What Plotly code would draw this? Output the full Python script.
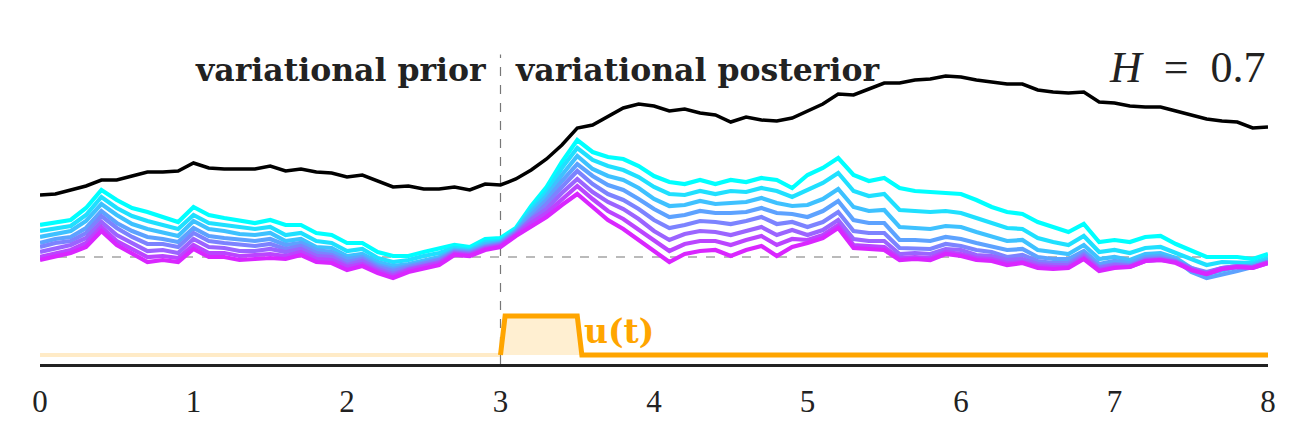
import plotly.graph_objects as go

# ---------------- data ----------------
t = [round(0.1 * i, 1) for i in range(81)]

# observed trajectory (black)
observed = [62, 63, 67, 71, 77, 77, 81, 85, 85, 86,
            94, 89, 88, 88, 88, 91, 86, 88, 85, 84,
            80, 82, 76, 70, 71, 68, 68, 70, 67, 73,
            72, 78, 87, 98, 112, 129, 132, 141, 149, 153,
            151, 146, 148, 144, 142, 135, 140, 137, 136, 139,
            146, 153, 163, 162, 168, 174, 174, 177, 178, 181,
            180, 177, 175, 173, 173, 167, 165, 164, 165, 155,
            154, 151, 150, 150, 146, 142, 138, 136, 135, 129,
            130]

# sampled trajectories (cyan -> magenta)
path_0 = [32, 35, 37, 49, 67, 57, 49, 45, 40, 35,
          50, 42, 39, 37, 34, 37, 32, 32, 24, 22,
          14, 14, 5, 1, 1, 5, 8, 12, 10, 18,
          19, 29, 51, 70, 95, 117, 105, 100, 98, 91,
          81, 75, 73, 77, 73, 77, 75, 79, 77, 69,
          82, 89, 99, 82, 76, 79, 69, 66, 65, 64,
          63, 57, 50, 45, 43, 35, 30, 25, 33, 15,
          17, 15, 20, 21, 13, 7, 0, 0, 0, -2,
          3]
path_1 = [26, 29, 31, 42, 60, 49, 41, 36, 32, 28,
          42, 34, 32, 30, 28, 30, 22, 24, 16, 14,
          6, 8, -1, -5, -3, 1, 4, 9, 7, 15,
          16, 27, 48, 65, 89, 109, 97, 91, 87, 80,
          70, 63, 62, 66, 63, 66, 65, 69, 66, 60,
          67, 74, 84, 66, 61, 63, 47, 46, 45, 46,
          44, 39, 34, 29, 28, 19, 15, 12, 21, 5,
          7, 4, 9, 10, 4, -2, -8, -5, -5, -6,
          -1]
path_2 = [20, 23, 26, 36, 53, 42, 33, 28, 25, 21,
          36, 28, 26, 23, 22, 24, 16, 18, 10, 9,
          1, 3, -5, -9, -7, -3, 0, 7, 6, 13,
          15, 26, 45, 61, 82, 101, 88, 81, 77, 69,
          58, 51, 52, 56, 53, 54, 55, 59, 54, 51,
          52, 58, 68, 50, 46, 47, 30, 29, 28, 31,
          30, 25, 21, 16, 17, 7, 5, 3, 12, -2,
          0, -3, 3, 4, -1, -11, -17, -13, -10, -8,
          -3]
path_3 = [14, 18, 20, 29, 46, 34, 26, 20, 18, 15,
          29, 21, 19, 17, 16, 18, 12, 14, 7, 5,
          -2, 0, -8, -12, -9, -5, -2, 6, 5, 11,
          14, 25, 42, 57, 76, 93, 81, 72, 67, 58,
          48, 40, 42, 46, 44, 44, 45, 49, 44, 43,
          40, 46, 56, 37, 34, 34, 17, 17, 16, 20,
          18, 14, 11, 7, 8, 0, -2, -2, 6, -7,
          -4, -6, 0, 1, -3, -15, -21, -18, -14, -10,
          -5]
path_4 = [10, 14, 16, 24, 41, 29, 20, 13, 13, 10,
          24, 16, 14, 12, 11, 13, 8, 11, 4, 2,
          -5, -2, -10, -14, -10, -6, -3, 5, 4, 10,
          13, 24, 39, 53, 70, 86, 73, 63, 57, 48,
          37, 29, 32, 36, 35, 33, 36, 40, 33, 35,
          30, 35, 45, 26, 24, 24, 9, 9, 8, 13,
          11, 7, 5, 0, 2, -4, -6, -6, 3, -10,
          -7, -8, -2, -1, -4, -11, -15, -11, -9, -10,
          -5]
path_5 = [5, 9, 12, 19, 35, 22, 14, 6, 7, 4,
          18, 10, 9, 6, 6, 8, 5, 8, 1, 0,
          -8, -4, -12, -17, -12, -8, -5, 4, 3, 9,
          12, 23, 37, 48, 64, 78, 65, 55, 48, 38,
          26, 17, 23, 26, 25, 22, 26, 30, 22, 27,
          22, 27, 37, 18, 16, 16, 3, 4, 3, 8,
          7, 2, 1, -3, -2, -7, -8, -8, 1, -11,
          -8, -9, -3, -2, -5, -12, -16, -11, -9, -10,
          -5]
path_6 = [0, 4, 7, 14, 30, 16, 8, 0, 1, -1,
          12, 4, 4, 1, 2, 3, 1, 5, -2, -3,
          -10, -7, -14, -19, -13, -9, -6, 3, 2, 8,
          11, 22, 34, 44, 58, 71, 58, 46, 38, 27,
          16, 6, 13, 16, 16, 12, 17, 21, 12, 18,
          17, 22, 32, 12, 11, 10, -1, 0, -1, 5,
          3, -1, -2, -6, -5, -9, -10, -10, -1, -13,
          -10, -10, -4, -3, -5, -13, -17, -12, -10, -11,
          -6]
path_7 = [-3, 1, 4, 10, 26, 12, 3, -5, -3, -5,
          8, 0, 0, -3, -2, -1, -2, 2, -5, -6,
          -13, -9, -16, -21, -15, -11, -8, 2, 1, 7,
          10, 21, 31, 40, 52, 63, 50, 37, 28, 17,
          5, -5, 3, 6, 7, 1, 7, 11, 1, 10,
          14, 19, 29, 9, 8, 7, -3, -2, -3, 3,
          1, -3, -4, -8, -6, -11, -12, -11, -2, -14,
          -11, -10, -4, -3, -6, -13, -17, -12, -10, -11,
          -6]
paths = [path_0, path_1, path_2, path_3, path_4, path_5, path_6, path_7]

# control signal u(t)
u_prior_t = [0.0, 3.0]
u_prior = [0, 0]
u_post_t = [3.0, 3.03, 3.5, 3.53, 8.0]
u_post = [0, 1, 1, 0, 0]

x_ticks = [0, 1, 2, 3, 4, 5, 6, 7, 8]
t_switch = 3

# ---------------- styles ----------------
path_colors = ["rgb(0,255,255)", "rgb(31,224,255)", "rgb(62,193,255)", "rgb(93,162,255)",
               "rgb(124,131,255)", "rgb(155,100,255)", "rgb(186,69,255)", "rgb(217,38,255)"]
ORANGE = "#FFA500"
SERIF = "Liberation Serif, Times New Roman, serif"
SERIF_B = "DejaVu Serif, serif"

fig = go.Figure()

for p, c in zip(paths, path_colors):
    fig.add_trace(go.Scatter(x=t, y=p, mode="lines", line=dict(color=c, width=4.2),
                             showlegend=False, hoverinfo="skip"))

fig.add_trace(go.Scatter(x=t, y=observed, mode="lines", line=dict(color="black", width=3.5),
                         showlegend=False, hoverinfo="skip"))

# control on secondary axis
fig.add_trace(go.Scatter(x=u_prior_t, y=u_prior, mode="lines", yaxis="y2",
                         line=dict(color="rgba(255,165,0,0.22)", width=4),
                         showlegend=False, hoverinfo="skip"))
fig.add_trace(go.Scatter(x=u_post_t, y=u_post, mode="lines", yaxis="y2",
                         line=dict(color=ORANGE, width=5, shape="linear"),
                         fill="tozeroy", fillcolor="rgba(255,165,0,0.18)",
                         showlegend=False, hoverinfo="skip"))

# reference lines
fig.add_shape(type="line", xref="x", yref="y", x0=x_ticks[0], x1=x_ticks[-1], y0=0, y1=0,
              line=dict(color="#777777", width=1.2, dash="dash"), layer="below")
fig.add_shape(type="line", xref="x", yref="paper", x0=t_switch, x1=t_switch, y0=0, y1=0.85,
              line=dict(color="#777777", width=1.2, dash="dash"), layer="below")

# text
fig.add_annotation(x=t_switch - 0.08, y=0.808, xref="x", yref="paper", text="<b>variational prior</b>",
                   showarrow=False, xanchor="right", yanchor="middle",
                   font=dict(family=SERIF_B, size=31.5, color="#222222"))
fig.add_annotation(x=t_switch + 0.08, y=0.808, xref="x", yref="paper", text="<b>variational posterior</b>",
                   showarrow=False, xanchor="left", yanchor="middle",
                   font=dict(family=SERIF_B, size=31.5, color="#222222"))
fig.add_annotation(x=x_ticks[-1], y=0.815, xref="x", yref="paper",
                   text="<i>H</i>\u00a0\u00a0=\u00a0\u00a00.7",
                   showarrow=False, xanchor="right", yanchor="middle",
                   font=dict(family=SERIF, size=44, color="#222222"))
fig.add_annotation(x=3.53, y=0.088, xref="x", yref="paper", text="<b>u(t)</b>",
                   showarrow=False, xanchor="left", yanchor="middle",
                   font=dict(family=SERIF_B, size=33, color=ORANGE))

fig.update_layout(
    width=1290, height=421,
    margin=dict(l=40, r=22, t=0, b=57, autoexpand=False),
    paper_bgcolor="white", plot_bgcolor="white",
    xaxis=dict(range=[x_ticks[0], x_ticks[-1]], tickvals=x_ticks, ticktext=[str(v) for v in x_ticks],
               showgrid=False, zeroline=False, showline=True, linecolor="#222222", linewidth=3,
               ticks="", ticklabelstandoff=8, automargin=False,
               tickfont=dict(family=SERIF, size=31, color="#222222")),
    yaxis=dict(range=[-107, 257], visible=False, showgrid=False, zeroline=False),
    yaxis2=dict(range=[-0.2308, 9.1026], overlaying="y", visible=False, showgrid=False, zeroline=False),
)

fig.write_html("out.html")
